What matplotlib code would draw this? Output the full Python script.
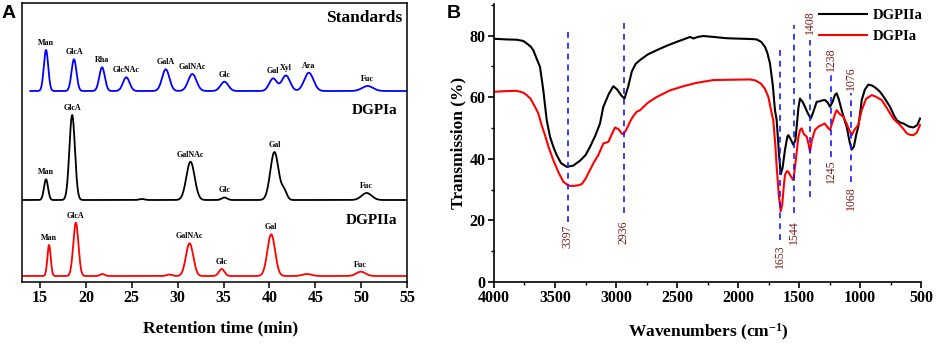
import numpy as np
import matplotlib
matplotlib.use("Agg")
import matplotlib.pyplot as plt
from matplotlib.ticker import MultipleLocator

plt.rcParams['font.family'] = ['Liberation Serif', 'DejaVu Serif']
plt.rcParams['font.weight'] = 'bold'
plt.rcParams['mathtext.fontset'] = 'custom'
plt.rcParams['mathtext.rm'] = 'Liberation Serif:bold'
plt.rcParams['mathtext.bf'] = 'Liberation Serif:bold'
plt.rcParams['mathtext.default'] = 'bf'

# ---------------- Panel A data: HPLC peaks (retention time, height, width) ----------------
std_rt = [15.65, 18.7, 21.76, 24.4, 28.7, 31.6, 35.1, 40.4, 41.8, 44.3, 50.7]
std_h = [41, 31.7, 23.7, 13.7, 21.7, 17, 9.3, 12.5, 15.5, 18.3, 5]
std_w = [0.24, 0.27, 0.3, 0.36, 0.4, 0.45, 0.42, 0.42, 0.45, 0.5, 0.6]
std_lab = ['Man', 'GlcA', 'Rha', 'GlcNAc', 'GalA', 'GalNAc', 'Glc', 'Gal', 'Xyl', 'Ara', 'Fuc']

d1_rt = [15.65, 18.5, 26.1, 31.4, 35.1, 40.55, 41.6, 50.6]
d1_h = [20.7, 85, 1.0, 38.3, 2.5, 48, 9, 7.0]
d1_w = [0.22, 0.3, 0.3, 0.45, 0.3, 0.45, 0.3, 0.55]
d1_lab = ['Man', 'GlcA', '', 'GalNAc', 'Glc', 'Gal', '', 'Fuc']

d2_rt = [15.98, 18.9, 21.8, 29.1, 31.3, 34.8, 40.2, 44.1, 49.97]
d2_h = [31, 53.3, 2.0, 1.5, 32.7, 7, 41.7, 2.0, 4.3]
d2_w = [0.18, 0.28, 0.25, 0.3, 0.4, 0.3, 0.42, 0.5, 0.5]
d2_lab = ['Man', 'GlcA', '', '', 'GalNAc', 'Glc', 'Gal', '', 'Fuc']

trace_names = ['Standards', 'DGPIa', 'DGPIIa']

# ---------------- Panel B data: FTIR spectra ----------------
wn_dgpiia = [4000, 3900, 3814, 3760, 3732, 3700, 3678, 3650, 3623, 3595, 3568, 3541, 3510, 3486,
             3450, 3404, 3350, 3295, 3250, 3213, 3170, 3131, 3104, 3060, 3022, 2990, 2955, 2930,
             2900, 2871, 2840, 2803, 2740, 2666, 2580, 2502, 2440, 2393, 2366, 2330, 2284, 2200,
             2100, 2038, 1950, 1880, 1847, 1810, 1779, 1760, 1738, 1715, 1697, 1683, 1665, 1650,
             1635, 1615, 1595, 1587, 1570, 1546, 1530, 1519, 1505, 1492, 1470, 1451, 1430, 1404,
             1385, 1355, 1330, 1310, 1287, 1265, 1246, 1225, 1205, 1191, 1175, 1150, 1130, 1109,
             1085, 1068, 1050, 1030, 1014, 995, 986, 960, 932, 900, 870, 836, 800, 754, 720, 699,
             670, 645, 600, 563, 530, 508]
tr_dgpiia = [79.0, 78.8, 78.7, 78.3, 77.5, 76.5, 75.3, 72.5, 69.9, 62.0, 52.6, 47.2, 43.5, 41.2,
             38.6, 37.4, 37.8, 39.4, 41.2, 43.9, 47.5, 51.5, 56.9, 61.0, 63.6, 62.5, 60.5, 59.6,
             63.5, 68.3, 70.8, 72.1, 73.9, 75.3, 76.8, 78.0, 78.9, 79.6, 79.1, 79.6, 79.9, 79.6,
             79.2, 79.1, 79.0, 78.9, 78.8, 78.0, 76.4, 74.5, 71.0, 64.0, 55.8, 52.6, 42.0, 35.0,
             37.0, 42.9, 47.3, 47.7, 46.5, 44.5, 46.0, 50.4, 56.5, 59.6, 58.5, 56.9, 55.0, 53.1,
             55.0, 58.5, 58.7, 59.0, 59.1, 58.3, 56.9, 58.5, 60.8, 61.3, 59.5, 55.8, 53.0, 50.4,
             45.5, 43.0, 44.0, 48.0, 50.4, 56.0, 59.1, 62.5, 64.1, 63.8, 63.0, 61.8, 59.8, 56.9,
             54.0, 52.6, 51.8, 51.5, 50.5, 50.2, 51.0, 53.1]

wn_dgpia = [4000, 3900, 3814, 3760, 3732, 3700, 3664, 3637, 3610, 3582, 3550, 3514, 3470, 3432,
            3390, 3350, 3310, 3281, 3250, 3213, 3180, 3145, 3120, 3104, 3080, 3063, 3040, 3008,
            2975, 2955, 2940, 2915, 2885, 2860, 2830, 2803, 2740, 2666, 2560, 2448, 2350, 2202,
            2050, 1902, 1860, 1814, 1780, 1751, 1724, 1711, 1695, 1683, 1665, 1650, 1638, 1625,
            1615, 1600, 1587, 1570, 1546, 1525, 1505, 1490, 1478, 1460, 1437, 1420, 1410, 1395,
            1369, 1340, 1314, 1290, 1265, 1246, 1225, 1205, 1191, 1165, 1137, 1110, 1090, 1068,
            1045, 1014, 1000, 986, 950, 904, 870, 822, 780, 727, 700, 672, 640, 617, 590, 563,
            535, 508]
tr_dgpia = [61.8, 62.0, 62.1, 61.5, 60.7, 59.5, 56.9, 54.8, 51.0, 47.7, 43.5, 39.6, 35.5, 32.6,
            31.3, 31.2, 31.4, 31.8, 33.5, 36.4, 39.0, 41.2, 43.5, 45.0, 45.3, 45.5, 47.5, 50.2,
            49.5, 48.3, 48.0, 49.5, 52.1, 53.8, 55.3, 55.8, 58.2, 60.1, 62.2, 63.6, 64.6, 65.6,
            65.7, 65.8, 65.5, 64.5, 62.8, 60.1, 54.8, 52.6, 45.0, 37.4, 28.0, 23.0, 25.0, 31.0,
            34.7, 36.0, 35.8, 34.5, 33.1, 40.0, 47.2, 49.5, 49.9, 48.0, 47.2, 44.5, 42.3, 46.0,
            49.4, 50.5, 51.0, 51.5, 50.2, 49.4, 52.0, 54.5, 55.8, 54.5, 53.7, 51.5, 49.5, 47.7,
            49.5, 51.0, 53.5, 55.8, 59.5, 60.7, 60.2, 59.1, 56.5, 53.1, 52.0, 51.0, 49.5, 48.3,
            47.8, 47.7, 48.5, 51.0]

band_wn = [3397, 2936, 1653, 1544, 1408, 1238, 1076]
upper_labels = ['', '', '', '', '1408', '1238', '1076']
lower_labels = ['3397', '2936', '1653', '1544', '', '1245', '1068']

# ---------------- Figure ----------------
W, H = 941, 344
fig = plt.figure(figsize=(W / 100, H / 100), dpi=100)

# Panel A
axA = fig.add_axes([21.7 / W, 1 - 281.7 / H, (407 - 21.7) / W, (281.7 - 3) / H])
t = np.linspace(13.0, 55.0, 3000)
t_start = [13.95, 13.15, 13.0]
baselines = [190.7, 81.7, 5.7]
colors = ['#0000ff', '#000000', '#ff0000']
sets = [(std_rt, std_h, std_w, std_lab), (d1_rt, d1_h, d1_w, d1_lab), (d2_rt, d2_h, d2_w, d2_lab)]
for (rt, hh, ww, lab), base, col, ts in zip(sets, baselines, colors, t_start):
    tt = t[t >= ts]
    y = np.full_like(tt, base)
    for c, h, s in zip(rt, hh, ww):
        y = y + h * np.exp(-0.5 * ((tt - c) / s) ** 2)
    axA.plot(tt, y, color=col, lw=1.3)
    for c, h, s, l in zip(rt, hh, ww, lab):
        if l:
            yy = base
            for c2, h2, s2 in zip(rt, hh, ww):
                yy += h2 * np.exp(-0.5 * ((c - c2) / s2) ** 2)
            axA.annotate(l, (c, yy), xytext=(0, 2.2), textcoords='offset points',
                         ha='center', va='bottom', fontsize=5.8, fontweight='bold')

axA.text(0.987, 0.946, trace_names[0], transform=axA.transAxes, ha='right', va='center',
         fontsize=12.5, fontweight='bold')
axA.text(0.974, 0.616, trace_names[1], transform=axA.transAxes, ha='right', va='center',
         fontsize=11, fontweight='bold')
axA.text(0.974, 0.221, trace_names[2], transform=axA.transAxes, ha='right', va='center',
         fontsize=11, fontweight='bold')

axA.set_xlim(13, 55)
axA.set_ylim(0, 278.7)
axA.set_yticks([])
axA.set_xticks([15, 20, 25, 30, 35, 40, 45, 50, 55])
axA.tick_params(axis='x', direction='out', length=4, width=1.1, pad=2, labelsize=11.5)
for lbl in axA.get_xticklabels():
    lbl.set_fontweight('bold')
for sp in axA.spines.values():
    sp.set_linewidth(1.1)

fig.text(221 / W, 1 - 328 / H, 'Retention time (min)', ha='center', va='center',
         fontsize=12.5, fontweight='bold')

# Panel B
axB = fig.add_axes([494 / W, 1 - 282 / H, (921 - 494) / W, (282 - 4) / H])
axB.plot(wn_dgpiia, tr_dgpiia, color='black', lw=1.5, label='DGPIIa')
axB.plot(wn_dgpia, tr_dgpia, color='#ff0000', lw=1.5, label='DGPIa')

line_spans = [(82.4, 19.6), (85.4, 22.4), (75.5, 13.6), (83.4, 22.3), (78.6, 27.7), (67.2, 40.7), (61.3, 32.6)]
upper_pos = [None, None, None, None, 84.3, 72.4, 66.2]
lower_pos = [15.0, 16.3, 8.5, 16.1, None, 36.0, 27.3]
lab_col = '#7a1a1a'
for w, (top, bot), ul, ll, up, lp in zip(band_wn, line_spans, upper_labels, lower_labels, upper_pos, lower_pos):
    axB.plot([w, w], [bot, top], color='#1a1aff', lw=1.2, ls=(0, (3.5, 3)))
    if ul:
        axB.text(w, up, ul, rotation=90, ha='center', va='center', fontsize=8.5,
                 color=lab_col, fontweight='normal')
    if ll:
        axB.text(w, lp, ll, rotation=90, ha='center', va='center', fontsize=8.5,
                 color=lab_col, fontweight='normal')

axB.set_xlim(4000, 500)
axB.set_ylim(0, 90.3)
axB.xaxis.set_major_locator(MultipleLocator(500))
axB.xaxis.set_minor_locator(MultipleLocator(250))
axB.yaxis.set_major_locator(MultipleLocator(20))
axB.yaxis.set_minor_locator(MultipleLocator(10))
axB.tick_params(which='major', direction='out', length=4, width=1.2, labelsize=11.5, pad=2)
axB.tick_params(which='minor', direction='out', length=2.5, width=1.0)
for lbl in axB.get_xticklabels() + axB.get_yticklabels():
    lbl.set_fontweight('bold')
axB.spines['top'].set_visible(False)
axB.spines['right'].set_visible(False)
axB.spines['left'].set_linewidth(1.2)
axB.spines['bottom'].set_linewidth(1.2)

leg = axB.legend(loc='upper right', bbox_to_anchor=(1.035, 1.03), frameon=False,
                 prop={'family': 'Liberation Serif', 'weight': 'bold', 'size': 10.5},
                 handlelength=3.3, handletextpad=0.4, labelspacing=0.55)

fig.text(708 / W, 1 - 332 / H, 'Wavenumbers (cm$^{-1}$)', ha='center', va='center',
         fontsize=12.5, fontweight='bold')
fig.text(458 / W, 0.585, 'Transmission (%)', rotation=90, ha='center', va='center',
         fontsize=12.5, fontweight='bold')

# Panel letters
fig.text(1.5 / W, 1 - 13.5 / H, 'A', ha='left', va='center', fontsize=14,
         fontweight='bold', family='Liberation Sans')
fig.text(447 / W, 1 - 13.5 / H, 'B', ha='left', va='center', fontsize=14,
         fontweight='bold', family='Liberation Sans')

fig.savefig('out.png', dpi=100)
